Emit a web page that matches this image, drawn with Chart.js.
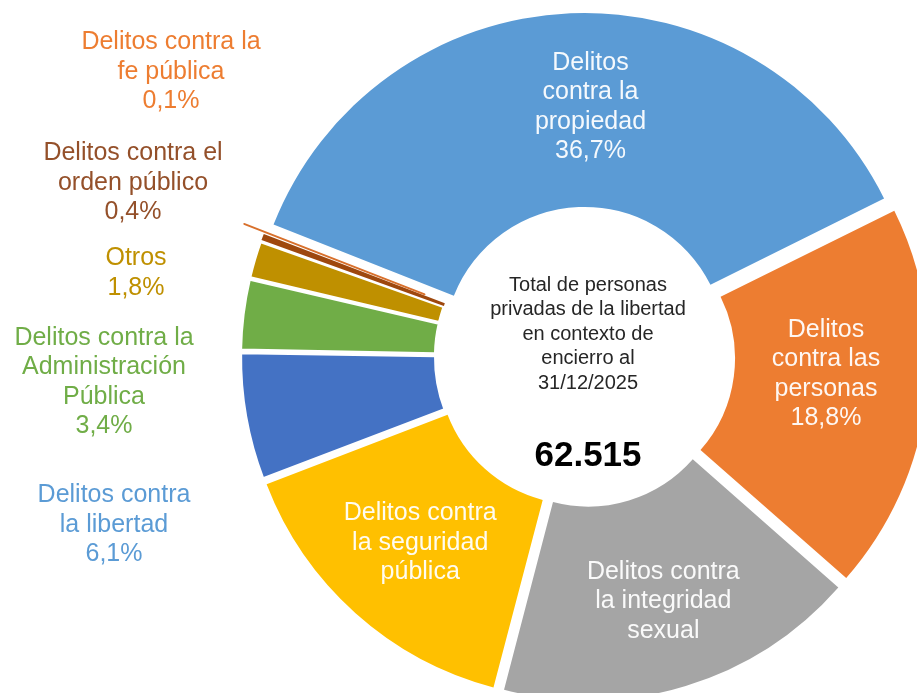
<!DOCTYPE html>
<html lang="es">
  <head>
    <meta charset="utf-8" />
    <title>Personas privadas de la libertad por delito</title>
    <script src="https://cdn.jsdelivr.net/npm/chart.js@4.4.1/dist/chart.umd.min.js"></script>
    <style>
      * {
        margin: 0;
        padding: 0;
        box-sizing: border-box;
      }
      body {
        background: #ffffff;
        overflow: hidden;
      }
      #chart {
        display: block;
      }
    </style>
  </head>
  <body>
    <canvas id="chart" width="917" height="693"></canvas>
    <script>
      // Categories (clockwise, starting with the big blue slice)
      const categories = [
        "Delitos contra la propiedad",
        "Delitos contra las personas",
        "Delitos contra la integridad sexual",
        "Delitos contra la seguridad pública",
        "Delitos contra la libertad",
        "Delitos contra la Administración Pública",
        "Otros",
        "Delitos contra el orden público",
        "Delitos contra la fe pública",
      ];
      // Share of total (%)
      const shares = [36.7, 18.8, 17.6, 15.1, 6.1, 3.4, 1.8, 0.4, 0.1];
      // Label text, broken into lines as in the original
      const labelLines = [
        ["Delitos", "contra la", "propiedad"],
        ["Delitos", "contra las", "personas"],
        ["Delitos contra", "la integridad", "sexual"],
        ["Delitos contra", "la seguridad", "pública"],
        ["Delitos contra", "la libertad"],
        ["Delitos contra la", "Administración", "Pública"],
        ["Otros"],
        ["Delitos contra el", "orden público"],
        ["Delitos contra la", "fe pública"],
      ];
      const showPct = [true, true, false, false, true, true, true, true, true];
      const centerLines = [
        "Total de personas",
        "privadas de la libertad",
        "en contexto de",
        "encierro al",
        "31/12/2025",
      ];
      const totalLabel = "62.515";

      // styles
      const sliceColors = ["#5B9BD5", "#ED7D31", "#A5A5A5", "#FFC000", "#4472C4", "#70AD47", "#BF9000", "#9E480E", "#D8702C"];
      const textColors = [null, null, null, null, "#5B9BD5", "#70AD47", "#BF9000", "#94502A", "#ED7D31"];
      const explode = [12, 12, 12, 12, 12, 12, 12, 12, 34];
      // thin white rims widen the gaps between the small slices; the tiny
      // "fe pública" slice gets a rim in its own colour so it stays visible
      const borderWidths = [0, 0, 0, 0, 2, 2, 2, 0, 2];
      const borderColors = ["#fff", "#fff", "#fff", "#fff", "#fff", "#fff", "#fff", "#fff", "#D8702C"];
      const inside = [true, true, true, true, false, false, false, false, false];
      const labelNudge = [[16, -3], [-4, -15], [6, 8], [0, 2]];
      // outside labels sit in the left margin (block centre)
      const outsidePos = { 4: [114, 525], 5: [104, 382], 6: [136, 273], 7: [133, 183], 8: [171, 72] };
      const FONT = "'Liberation Sans', Arial, sans-serif";

      const fmtPct = (v) => v.toFixed(1).replace(".", ",") + "%";

      // Chart.js moves an arc by offset/4 and also grows its radius a bit,
      // so work back from the wanted explosion distance
      const total = shares.reduce((a, b) => a + b, 0);
      const offsets = shares.map((v, i) => {
        const circ = (v / total) * Math.PI * 2;
        const fix = 1 - Math.sin(Math.min(Math.PI, circ));
        return (4 * explode[i]) / (1 + fix);
      });

      const drawBlock = (ctx, lines, x, y, lh) => {
        lines.forEach((t, k) => {
          ctx.fillText(t, x, y + (k - (lines.length - 1) / 2) * lh);
        });
      };

      const labelPlugin = {
        id: "sliceLabels",
        afterDatasetsDraw(chart) {
          const ctx = chart.ctx;
          const arcs = chart.getDatasetMeta(0).data;
          ctx.save();
          ctx.textAlign = "center";
          ctx.textBaseline = "middle";
          ctx.font = "25px " + FONT;
          arcs.forEach((arc, i) => {
            const lines = labelLines[i].slice();
            if (showPct[i]) lines.push(fmtPct(shares[i]));
            let x, y;
            if (inside[i]) {
              const p = arc.getProps(["x", "y", "startAngle", "endAngle", "innerRadius", "outerRadius"], true);
              const mid = (p.startAngle + p.endAngle) / 2;
              const r = (p.innerRadius + p.outerRadius) / 2 + explode[i];
              x = p.x + Math.cos(mid) * r + labelNudge[i][0];
              y = p.y + Math.sin(mid) * r + labelNudge[i][1];
              ctx.fillStyle = "rgba(255,255,255,0.94)";
            } else {
              x = outsidePos[i][0];
              y = outsidePos[i][1];
              ctx.fillStyle = textColors[i];
            }
            drawBlock(ctx, lines, x, y, 29.5);
          });

          // centre text
          const c = arcs[0].getProps(["x", "y"], true);
          ctx.fillStyle = "#262626";
          ctx.font = "20px " + FONT;
          drawBlock(ctx, centerLines, c.x + 3, c.y - 23, 24.5);
          ctx.fillStyle = "#000000";
          ctx.font = "bold 35px " + FONT;
          ctx.fillText(totalLabel, c.x + 3, c.y + 99);
          ctx.restore();
        },
      };

      new Chart(document.getElementById("chart"), {
        type: "doughnut",
        plugins: [labelPlugin],
        data: {
          labels: categories,
          datasets: [
            {
              data: shares,
              backgroundColor: sliceColors,
              borderWidth: borderWidths,
              borderColor: borderColors,
              offset: offsets,
            },
          ],
        },
        options: {
          responsive: false,
          devicePixelRatio: 1,
          animation: false,
          rotation: -68.5,
          radius: 332,
          cutout: "41.6%",
          layout: { padding: { left: 253, right: 0, top: 21, bottom: 0 } },
          plugins: {
            legend: { display: false },
            tooltip: { enabled: false },
          },
        },
      });
    </script>
  </body>
</html>
